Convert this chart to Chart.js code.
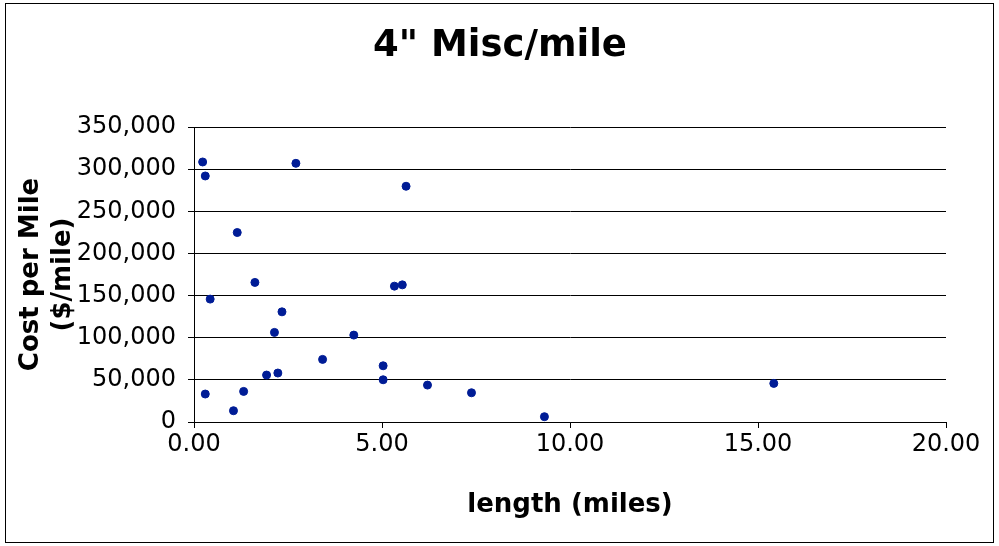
<!DOCTYPE html>
<html>
<head>
<meta charset="utf-8">
<script src="https://cdn.jsdelivr.net/npm/chart.js@4.4.0/dist/chart.umd.min.js"></script>
<style>
  html, body { margin: 0; padding: 0; background: #fff; }
  #wrap { position: relative; width: 999px; height: 546px; }
</style>
</head>
<body>
<div id="wrap"><canvas id="scatter" width="999" height="546"></canvas></div>
<script>
var lengths = [0.23, 0.30, 1.15, 2.71, 5.64, 1.62, 0.43, 2.34, 2.14, 5.33, 5.54, 4.25, 3.42, 5.03, 5.03, 6.21, 1.93, 2.23, 0.30, 1.32, 1.05, 7.38, 9.32, 15.42];
var costs = [308500, 291900, 224800, 306900, 279700, 165600, 145800, 130700, 106300, 161200, 162700, 103100, 74300, 66700, 50100, 43800, 55700, 58100, 33200, 36300, 13400, 34700, 6300, 45800];

var title = '4" Misc/mile';
var xTitle = "length (miles)";
var yTitle = ["Cost per Mile", "($/mile)"];
var pointColor = "#001c96";

var points = lengths.map(function (x, i) { return {x: x, y: costs[i]}; });

// white background, outer frame and the centred chart title
var framePlugin = {
    id: "frame",
    beforeDraw: function (chart) {
        var ctx = chart.ctx;
        ctx.save();
        ctx.fillStyle = "#fff";
        ctx.fillRect(0, 0, chart.width, chart.height);
        ctx.strokeStyle = "#000";
        ctx.lineWidth = 1;
        ctx.strokeRect(5.5, 3.5, 988, 539);
        ctx.fillStyle = "#000";
        ctx.font = "bold 37px 'DejaVu Sans'";
        ctx.textAlign = "center";
        ctx.textBaseline = "middle";
        ctx.fillText(title, 500, 46);
        ctx.restore();
    }
};

var config = {
    type: "scatter",
    data: {
        datasets: [{
            data: points,
            backgroundColor: pointColor,
            borderColor: pointColor,
            pointRadius: 4,
            pointHoverRadius: 4
        }]
    },
    options: {
        responsive: false,
        animation: false,
        layout: {padding: {left: 0, right: 53, top: 127, bottom: 0}},
        plugins: {
            legend: {display: false},
            tooltip: {enabled: false},
            title: {display: false}
        },
        scales: {
            x: {
                type: "linear",
                min: 0, max: 20,
                ticks: {
                    stepSize: 5,
                    color: "#000",
                    font: {family: "DejaVu Sans", size: 24},
                    padding: 2,
                    callback: function (v) { return v.toFixed(2); }
                },
                grid: {display: true, drawOnChartArea: false, tickLength: 6, color: "#000"},
                border: {color: "#000", width: 1},
                title: {
                    display: true,
                    text: xTitle,
                    color: "#000",
                    font: {family: "DejaVu Sans", size: 26, weight: "bold"},
                    padding: {top: 4, bottom: 25}
                },
                afterFit: function (s) { s.height = 124; }
            },
            y: {
                min: 0, max: 350000,
                ticks: {
                    stepSize: 50000,
                    color: "#000",
                    font: {family: "DejaVu Sans", size: 24},
                    padding: 12,
                    callback: function (v) { return v.toLocaleString("en-US"); }
                },
                grid: {color: "#000", lineWidth: 1, tickLength: 6, tickColor: "#000"},
                border: {color: "#000", width: 1},
                title: {
                    display: true,
                    text: yTitle,
                    color: "#000",
                    font: {family: "DejaVu Sans", size: 26, weight: "bold"},
                    padding: {top: 16, bottom: 0}
                },
                afterFit: function (s) { s.width = 194; }
            }
        }
    },
    plugins: [framePlugin]
};

new Chart(document.getElementById("scatter"), config);
</script>
</body>
</html>
